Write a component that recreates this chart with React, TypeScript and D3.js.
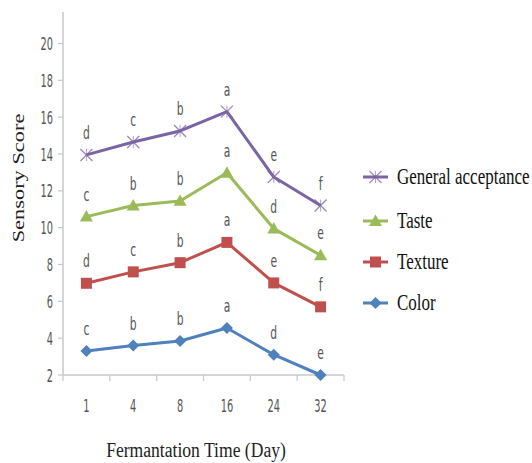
import React from "react";
import * as d3 from "d3";

const days = ["1", "4", "8", "16", "24", "32"];
const yTicks = [2, 4, 6, 8, 10, 12, 14, 16, 18, 20];
const seriesNames = ["General acceptance", "Taste", "Texture", "Color"];
const generalValues = [13.95, 14.65, 15.25, 16.3, 12.75, 11.2];
const tasteValues = [10.6, 11.2, 11.45, 12.98, 9.95, 8.5];
const textureValues = [6.98, 7.6, 8.1, 9.2, 7.0, 5.7];
const colorValues = [3.3, 3.6, 3.85, 4.55, 3.1, 2.0];
const generalLetters = ["d", "c", "b", "a", "e", "f"];
const tasteLetters = ["c", "b", "b", "a", "d", "e"];
const textureLetters = ["d", "c", "b", "a", "e", "f"];
const colorLetters = ["c", "b", "b", "a", "d", "e"];

const colors = ["#7B64A3", "#9BBB59", "#C0504D", "#4F81BD"];
const markerTypes = ["star", "triangle", "square", "diamond"];

function Marker({ type, x, y, color }: { type: string; x: number; y: number; color: string }) {
  if (type === "star") {
    const s = 6;
    return (
      <g stroke={color} strokeWidth={1.3} fill="none" opacity={0.75}>
        <line x1={x - s} y1={y - s} x2={x + s} y2={y + s} />
        <line x1={x - s} y1={y + s} x2={x + s} y2={y - s} />
        <line x1={x} y1={y - s} x2={x} y2={y + s} strokeWidth={0.8} />
      </g>
    );
  }
  if (type === "triangle") {
    const s = 6.5;
    return <path d={`M${x},${y - s}L${x + s},${y + s * 0.75}L${x - s},${y + s * 0.75}Z`} fill={color} />;
  }
  if (type === "square") {
    const s = 5.5;
    return <rect x={x - s} y={y - s} width={2 * s} height={2 * s} fill={color} />;
  }
  const s = 6;
  return <path d={`M${x},${y - s}L${x + s},${y}L${x},${y + s}L${x - s},${y}Z`} fill={color} />;
}

export default function App() {
  const width = 532;
  const height = 463;
  const x0 = 63;
  const x1 = 344;
  const yBottom = 375;
  const x = d3.scaleBand<string>().domain(days).range([x0, x1]);
  const y = d3.scaleLinear().domain([2, 20]).range([yBottom, 43.5]);
  const series = [generalValues, tasteValues, textureValues, colorValues];
  const letters = [generalLetters, tasteLetters, textureLetters, colorLetters];
  const line = d3
    .line<number>()
    .x((_, i) => (x(days[i]) as number) + x.bandwidth() / 2)
    .y((v) => y(v));
  const boundaries = days.map((d) => x(d) as number).concat([x1]);
  const legendY = [177, 221, 262, 303];
  const sans = "'Liberation Sans Narrow', 'DejaVu Sans Condensed', 'Liberation Sans', sans-serif";
  const serif = "'Liberation Serif', 'Times New Roman', serif";

  return (
    <svg width={width} height={height} style={{ position: "absolute", left: 0, top: 0, background: "#fff" }}>
      <rect width={width} height={height} fill="#fff" />
      {/* y axis */}
      <line x1={x0} y1={12} x2={x0} y2={yBottom} stroke="#c8c8c8" strokeWidth={1.5} />
      {yTicks.map((t) => (
        <g key={t}>
          <line x1={x0 - 5} x2={x0} y1={y(t)} y2={y(t)} stroke="#c8c8c8" strokeWidth={1.2} />
          <text
            x={0}
            y={0}
            transform={`translate(${x0 - 10},${y(t) + 6.5}) scale(0.78,1.3)`}
            textAnchor="end"
            fontFamily={sans}
            fontSize={14}
            fill="#555"
          >
            {t}
          </text>
        </g>
      ))}
      {/* x axis */}
      <line x1={x0} y1={yBottom} x2={x1} y2={yBottom} stroke="#c8c8c8" strokeWidth={1.5} />
      {boundaries.map((b, i) => (
        <line key={i} x1={b} x2={b} y1={yBottom} y2={yBottom + 6} stroke="#c8c8c8" strokeWidth={1.2} />
      ))}
      {days.map((d) => (
        <text
          key={d}
          x={0}
          y={0}
          transform={`translate(${(x(d) as number) + x.bandwidth() / 2},${412}) scale(0.78,1.3)`}
          textAnchor="middle"
          fontFamily={sans}
          fontSize={14}
          fill="#555"
        >
          {d}
        </text>
      ))}
      {/* axis titles */}
      <text
        x={0}
        y={0}
        transform={`translate(196,457) scale(1.1,1.3)`}
        textAnchor="middle"
        fontFamily={serif}
        fontSize={16}
        fill="#222"
      >
        Fermantation Time (Day)
      </text>
      <text
        x={0}
        y={0}
        transform={`translate(24,178) rotate(-90) scale(1.4,1)`}
        textAnchor="middle"
        fontFamily={serif}
        fontSize={16}
        fill="#222"
      >
        Sensory Score
      </text>
      {/* series */}
      {series.map((vals, si) => (
        <g key={si}>
          <path d={line(vals) || ""} fill="none" stroke={colors[si]} strokeWidth={3} strokeLinejoin="round" />
          {vals.map((v, i) => (
            <Marker
              key={i}
              type={markerTypes[si]}
              x={(x(days[i]) as number) + x.bandwidth() / 2}
              y={y(v)}
              color={colors[si]}
            />
          ))}
          {vals.map((v, i) => (
            <text
              key={"l" + i}
              x={0}
              y={0}
              transform={`translate(${(x(days[i]) as number) + x.bandwidth() / 2},${y(v) - 16}) scale(0.85,1.3)`}
              textAnchor="middle"
              fontFamily={sans}
              fontSize={14}
              fill="#555"
            >
              {letters[si][i]}
            </text>
          ))}
        </g>
      ))}
      {/* legend */}
      {seriesNames.map((n, i) => (
        <g key={n}>
          <line x1={363} x2={388} y1={legendY[i]} y2={legendY[i]} stroke={colors[i]} strokeWidth={3} />
          <Marker type={markerTypes[i]} x={375.5} y={legendY[i]} color={colors[i]} />
          <text
            x={0}
            y={0}
            transform={`translate(397,${legendY[i] + 7}) scale(1.0,1.3)`}
            fontFamily={serif}
            fontSize={17}
            fill="#111"
          >
            {n}
          </text>
        </g>
      ))}
    </svg>
  );
}
